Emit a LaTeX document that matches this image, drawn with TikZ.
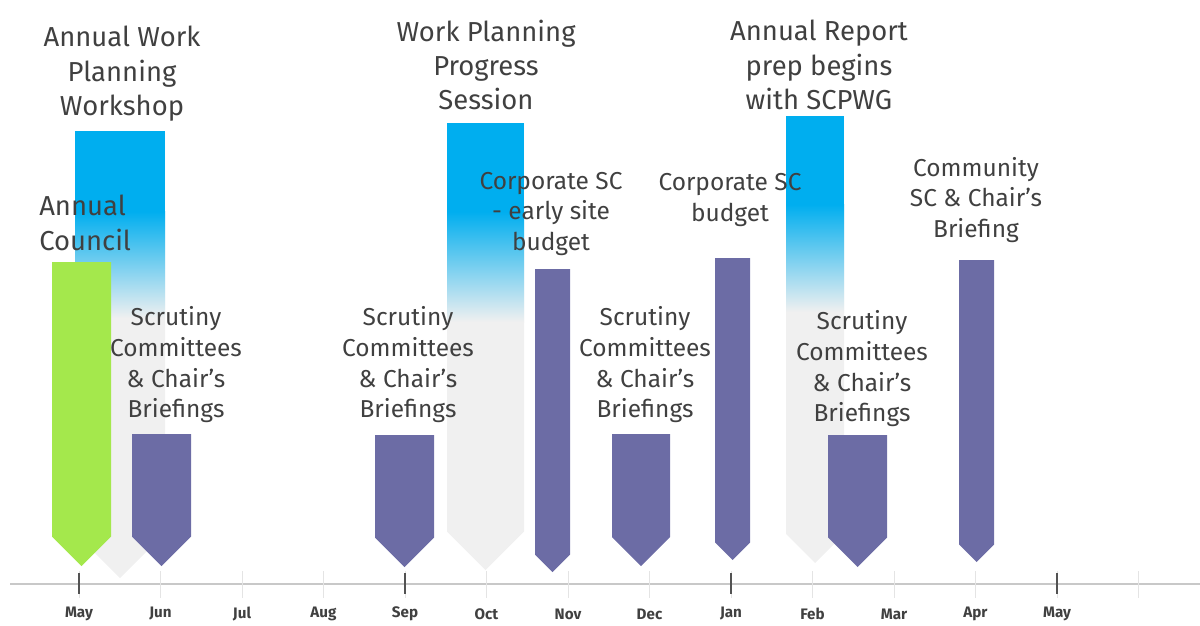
\documentclass[tikz,border=0pt]{standalone}
\usepackage{fontspec}
\usepackage{xcolor}
\newfontfamily\lblfont{Fira Sans}

\definecolor{barpurple}{RGB}{108,108,165}
\definecolor{bargreen}{RGB}{164,232,76}
\definecolor{barblue}{RGB}{0,174,239}
\definecolor{bargrey}{RGB}{240,240,240}
\definecolor{txtgrey}{RGB}{64,64,64}
\definecolor{axisgrey}{RGB}{200,200,200}
\definecolor{tickgrey}{RGB}{228,228,228}

% one timeline bar: colour, left, right, top, tip
\newcommand{\tlbar}[5]{%
  \fill[#1] (#2,#4) -- (#3,#4) -- (#3,{#5-(#3-#2)/2}) -- ({(#2+#3)/2},#5)
    -- (#2,{#5-(#3-#2)/2}) -- cycle;}
% blue head of a bar: left, right, top, solid until, faded at
\newcommand{\tlhead}[5]{%
  \fill[barblue] (#1,#3) rectangle (#2,#4);
  \shade[top color=barblue, bottom color=bargrey] (#1,{#4-0.5}) rectangle (#2,#5);}

\tikzset{
  lbl/.style={font=\lblfont\fontsize{17.4}{21.8}\selectfont, text=txtgrey, align=center, inner sep=0pt},
  ttl/.style={lbl, font=\lblfont\fontsize{19.5}{24.5}\selectfont},
  mon/.style={font=\lblfont\bfseries\fontsize{10.8}{12}\selectfont, text=txtgrey, inner sep=0pt},
}

\begin{document}
\begin{tikzpicture}[x=0.025cm,y=-0.025cm]
\useasboundingbox (0,0) rectangle (1200,625);

% axis
\draw[axisgrey, line width=0.8pt] (10,584) -- (1200,584);
\foreach \i in {0,...,13}
  \draw[tickgrey, line width=0.6pt] ({79+\i*81.5},571) -- ({79+\i*81.5},598);
\foreach \i in {0,4,8,12}
  \draw[txtgrey!90, line width=1.4pt] ({79+\i*81.5},573) -- ({79+\i*81.5},594);
\foreach \m [count=\i from 0] in {May,Jun,Jul,Aug,Sep,Oct,Nov,Dec,Jan,Feb,Mar,Apr,May}
  \node[mon] (mon\i) at ({79+\i*81.5},614) {\m};

% planning sessions (blue into grey)
\tlbar{bargrey}{75}{165}{131}{578}
\tlhead{75}{165}{131}{212}{318}
\tlbar{bargrey}{447}{524}{123}{570}
\tlhead{447}{524}{123}{212}{322}
\tlbar{bargrey}{786}{844}{116}{563}
\tlhead{786}{844}{116}{205}{312}

% meetings
\tlbar{bargreen}{52}{111}{262}{566}
\tlbar{barpurple}{132}{191}{434}{566}
\tlbar{barpurple}{375}{434}{435}{567}
\tlbar{barpurple}{535}{570}{269}{572}
\tlbar{barpurple}{612}{670}{434}{566}
\tlbar{barpurple}{715}{750}{258}{560}
\tlbar{barpurple}{828}{887}{435}{567}
\tlbar{barpurple}{959}{994}{260}{562}

% labels
\node[ttl] (workshop) at (122,74) {Annual Work\\Planning\\Workshop};
\node[ttl, align=left, anchor=west] (council) at (39,223) {Annual\\Council};
\node[lbl] (scrJun) at (176,365) {Scrutiny\\Committees\\\& Chair’s\\Briefings};
\node[lbl] (scrSep) at (408,365) {Scrutiny\\Committees\\\& Chair’s\\Briefings};
\node[ttl] (progress) at (486,65) {Work Planning\\Progress\\Session};
\node[lbl] (earlybudget) at (551,214) {Corporate SC\\- early site\\budget};
\node[lbl] (scrDec) at (645,365) {Scrutiny\\Committees\\\& Chair’s\\Briefings};
\node[lbl] (budget) at (730,200) {Corporate SC\\budget};
\node[ttl] (report) at (819,65) {Annual Report\\prep begins\\with SCPWG};
\node[lbl] (scrFeb) at (862,369) {Scrutiny\\Committees\\\& Chair’s\\Briefings};
\node[lbl] (community) at (976,200) {Community\\SC \& Chair’s\\Briefing};
\end{tikzpicture}
\end{document}
